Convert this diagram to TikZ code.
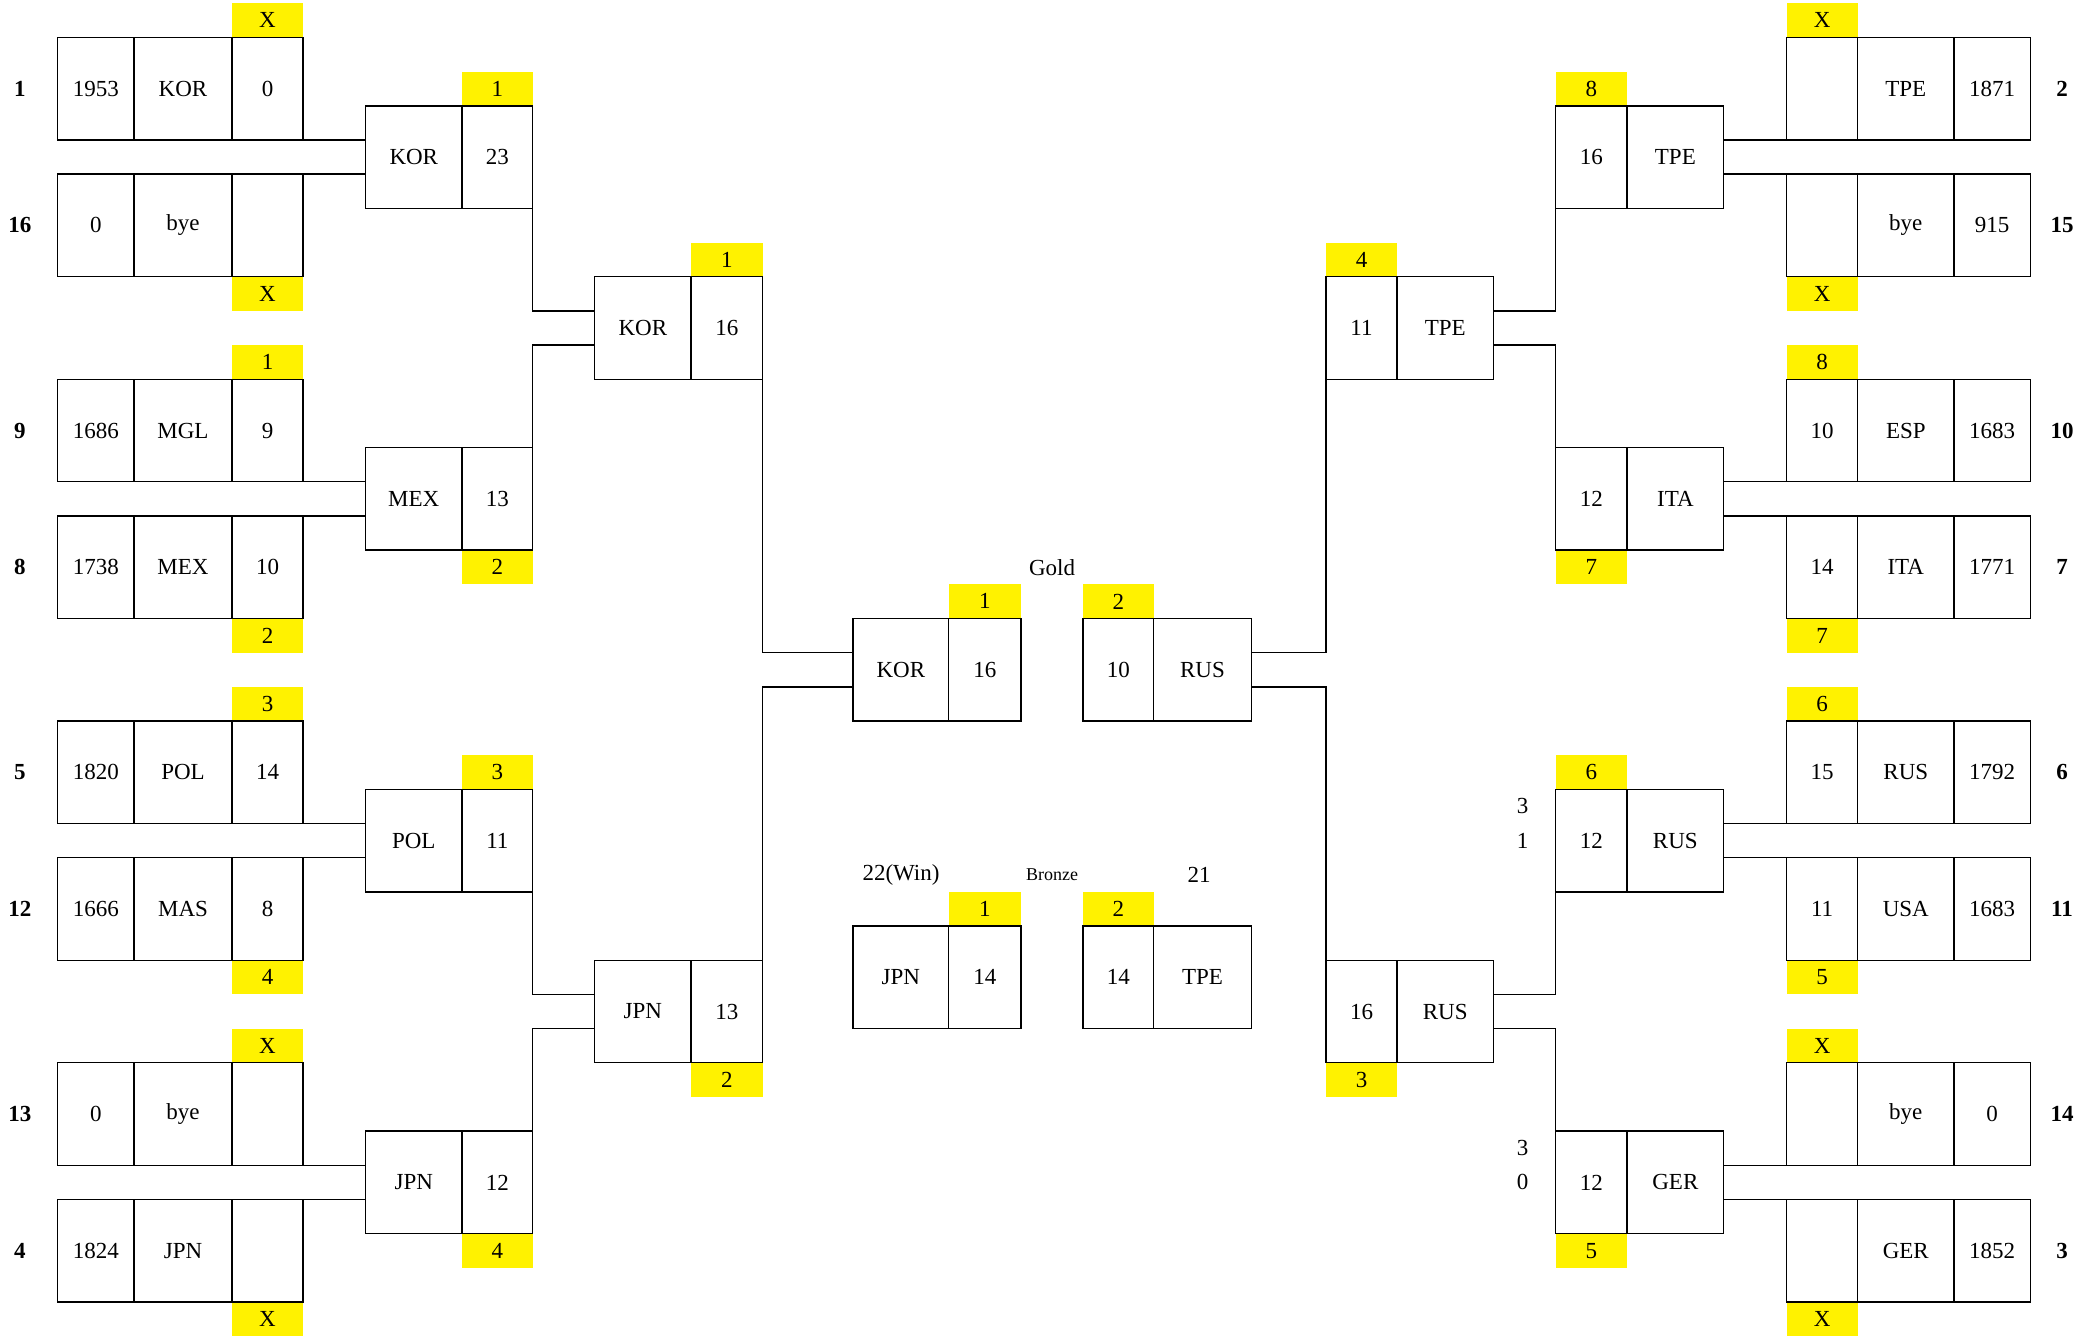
\documentclass[tikz,border=0pt]{standalone}
\usepackage{fontspec}
\setmainfont{Liberation Serif}
\newcommand\RH{34.176}
\newcommand\YZ{3.32}
\newcommand\mycell[5]{\node[cellsty, minimum width={(#3-#2)*0.5pt}] (#1) at ({(#2+#3)/2},{\YZ+(#4+1.5)*\RH}) {#5};}
\newcommand\ytag[5]{\node[tagsty, minimum width={(#3-#2)*0.5pt}] (#1) at ({(#2+#3)/2},{\YZ+(#4+0.5)*\RH}) {#5};}
\newcommand\ptext[5][]{\node[txtsty,#1] (#2) at (#3,{\YZ+(#4+0.5)*\RH}) {#5};}
\tikzset{
 cellsty/.style={draw, line width=0.7pt, minimum height=51.264pt, inner sep=0pt, outer sep=0pt, font=\fontsize{11.5}{13}\selectfont},
 tagsty/.style={fill=yellow, minimum height=17.088pt, inner sep=0pt, outer sep=0pt, font=\fontsize{11.5}{13}\selectfont},
 txtsty/.style={inner sep=0pt, font=\fontsize{11.5}{13}\selectfont},
 seedsty/.style={inner sep=0pt, font=\fontsize{11.5}{13}\selectfont\bfseries},
 smallsty/.style={inner sep=0pt, font=\fontsize{9}{10}\selectfont},
 conn/.style={line width=0.7pt},
}
\begin{document}
\begin{tikzpicture}[x=0.5pt,y=-0.5pt]
\useasboundingbox (0,0) rectangle (2100,1336);
% ---------- yellow tags ----------
% left round 1 (col C 232-303)
\ytag{tLa}{232}{303}{0}{X}
\ytag{tLb}{232}{303}{8}{X}
\ytag{tLc}{232}{303}{10}{1}
\ytag{tLd}{232}{303}{18}{2}
\ytag{tLe}{232}{303}{20}{3}
\ytag{tLf}{232}{303}{28}{4}
\ytag{tLg}{232}{303}{30}{X}
\ytag{tLh}{232}{303}{38}{X}
% left round 2 (col E 462-532.7)
\ytag{tMa}{462}{532.7}{2}{1}
\ytag{tMb}{462}{532.7}{16}{2}
\ytag{tMc}{462}{532.7}{22}{3}
\ytag{tMd}{462}{532.7}{36}{4}
% left round 3 (col G 691-762.7)
\ytag{tQa}{691}{762.7}{7}{1}
\ytag{tQb}{691}{762.7}{31}{2}
% finals
\ytag{tGL}{948.7}{1021}{17}{1}
\ytag{tGR}{1083}{1153.7}{17}{2}
\ytag{tBL}{948.7}{1021}{26}{1}
\ytag{tBR}{1083}{1153.7}{26}{2}
% right round 3 (col L 1326-1397)
\ytag{tSa}{1326}{1397}{7}{4}
\ytag{tSb}{1326}{1397}{31}{3}
% right round 2 (col N 1555.5-1627)
\ytag{tNa}{1555.5}{1627}{2}{8}
\ytag{tNb}{1555.5}{1627}{16}{7}
\ytag{tNc}{1555.5}{1627}{22}{6}
\ytag{tNd}{1555.5}{1627}{36}{5}
% right round 1 (col P 1786.6-1857.6)
\ytag{tRa}{1786.6}{1857.6}{0}{X}
\ytag{tRb}{1786.6}{1857.6}{8}{X}
\ytag{tRc}{1786.6}{1857.6}{10}{8}
\ytag{tRd}{1786.6}{1857.6}{18}{7}
\ytag{tRe}{1786.6}{1857.6}{20}{6}
\ytag{tRf}{1786.6}{1857.6}{28}{5}
\ytag{tRg}{1786.6}{1857.6}{30}{X}
\ytag{tRh}{1786.6}{1857.6}{38}{X}
% ---------- left round 1 ----------
\mycell{LaA}{57.6}{134}{1}{1953}\mycell{LaB}{134}{232}{1}{KOR}\mycell{LaC}{232}{303}{1}{0}
\mycell{LbA}{57.6}{134}{5}{0}\mycell{LbB}{134}{232}{5}{bye}\mycell{LbC}{232}{303}{5}{}
\mycell{LcA}{57.6}{134}{11}{1686}\mycell{LcB}{134}{232}{11}{MGL}\mycell{LcC}{232}{303}{11}{9}
\mycell{LdA}{57.6}{134}{15}{1738}\mycell{LdB}{134}{232}{15}{MEX}\mycell{LdC}{232}{303}{15}{10}
\mycell{LeA}{57.6}{134}{21}{1820}\mycell{LeB}{134}{232}{21}{POL}\mycell{LeC}{232}{303}{21}{14}
\mycell{LfA}{57.6}{134}{25}{1666}\mycell{LfB}{134}{232}{25}{MAS}\mycell{LfC}{232}{303}{25}{8}
\mycell{LgA}{57.6}{134}{31}{0}\mycell{LgB}{134}{232}{31}{bye}\mycell{LgC}{232}{303}{31}{}
\mycell{LhA}{57.6}{134}{35}{1824}\mycell{LhB}{134}{232}{35}{JPN}\mycell{LhC}{232}{303}{35}{}
\ptext[seedsty]{sLa}{20}{2}{1}
\ptext[seedsty]{sLb}{20}{6}{16}
\ptext[seedsty]{sLc}{20}{12}{9}
\ptext[seedsty]{sLd}{20}{16}{8}
\ptext[seedsty]{sLe}{20}{22}{5}
\ptext[seedsty]{sLf}{20}{26}{12}
\ptext[seedsty]{sLg}{20}{32}{13}
\ptext[seedsty]{sLh}{20}{36}{4}
% ---------- left round 2 ----------
\mycell{MaD}{365.6}{462}{3}{KOR}\mycell{MaE}{462}{532.7}{3}{23}
\mycell{MbD}{365.6}{462}{13}{MEX}\mycell{MbE}{462}{532.7}{13}{13}
\mycell{McD}{365.6}{462}{23}{POL}\mycell{McE}{462}{532.7}{23}{11}
\mycell{MdD}{365.6}{462}{33}{JPN}\mycell{MdE}{462}{532.7}{33}{12}
% ---------- left round 3 ----------
\mycell{QaF}{594.7}{691}{8}{KOR}\mycell{QaG}{691}{762.7}{8}{16}
\mycell{QbF}{594.7}{691}{28}{JPN}\mycell{QbG}{691}{762.7}{28}{13}
% ---------- finals ----------
\mycell{GLH}{853}{948.7}{18}{KOR}\mycell{GLI}{948.7}{1021}{18}{16}
\mycell{GRJ}{1083}{1153.7}{18}{10}\mycell{GRK}{1153.7}{1251.3}{18}{RUS}
\ptext{gold}{1052}{16}{Gold}
\mycell{BLH}{853}{948.7}{27}{JPN}\mycell{BLI}{948.7}{1021}{27}{14}
\mycell{BRJ}{1083}{1153.7}{27}{14}\mycell{BRK}{1153.7}{1251.3}{27}{TPE}
\ptext{bwin}{901}{25}{22(Win)}
\ptext[smallsty]{bronze}{1052}{25}{Bronze}
\ptext{blose}{1199}{25}{21}
% ---------- right round 3 ----------
\mycell{SaL}{1326}{1397}{8}{11}\mycell{SaM}{1397}{1493.5}{8}{TPE}
\mycell{SbL}{1326}{1397}{28}{16}\mycell{SbM}{1397}{1493.5}{28}{RUS}
% ---------- right round 2 ----------
\mycell{NaN}{1555.5}{1627}{3}{16}\mycell{NaO}{1627}{1723.7}{3}{TPE}
\mycell{NbN}{1555.5}{1627}{13}{12}\mycell{NbO}{1627}{1723.7}{13}{ITA}
\mycell{NcN}{1555.5}{1627}{23}{12}\mycell{NcO}{1627}{1723.7}{23}{RUS}
\mycell{NdN}{1555.5}{1627}{33}{12}\mycell{NdO}{1627}{1723.7}{33}{GER}
\ptext{xc1}{1522.5}{23}{3}
\ptext{xc2}{1522.5}{24}{1}
\ptext{xd1}{1522.5}{33}{3}
\ptext{xd2}{1522.5}{34}{0}
% ---------- right round 1 ----------
\mycell{RaP}{1786.6}{1857.6}{1}{}\mycell{RaQ}{1857.6}{1954}{1}{TPE}\mycell{RaR}{1954}{2030.4}{1}{1871}
\mycell{RbP}{1786.6}{1857.6}{5}{}\mycell{RbQ}{1857.6}{1954}{5}{bye}\mycell{RbR}{1954}{2030.4}{5}{915}
\mycell{RcP}{1786.6}{1857.6}{11}{10}\mycell{RcQ}{1857.6}{1954}{11}{ESP}\mycell{RcR}{1954}{2030.4}{11}{1683}
\mycell{RdP}{1786.6}{1857.6}{15}{14}\mycell{RdQ}{1857.6}{1954}{15}{ITA}\mycell{RdR}{1954}{2030.4}{15}{1771}
\mycell{ReP}{1786.6}{1857.6}{21}{15}\mycell{ReQ}{1857.6}{1954}{21}{RUS}\mycell{ReR}{1954}{2030.4}{21}{1792}
\mycell{RfP}{1786.6}{1857.6}{25}{11}\mycell{RfQ}{1857.6}{1954}{25}{USA}\mycell{RfR}{1954}{2030.4}{25}{1683}
\mycell{RgP}{1786.6}{1857.6}{31}{}\mycell{RgQ}{1857.6}{1954}{31}{bye}\mycell{RgR}{1954}{2030.4}{31}{0}
\mycell{RhP}{1786.6}{1857.6}{35}{}\mycell{RhQ}{1857.6}{1954}{35}{GER}\mycell{RhR}{1954}{2030.4}{35}{1852}
\ptext[seedsty]{sRa}{2062}{2}{2}
\ptext[seedsty]{sRb}{2062}{6}{15}
\ptext[seedsty]{sRc}{2062}{12}{10}
\ptext[seedsty]{sRd}{2062}{16}{7}
\ptext[seedsty]{sRe}{2062}{22}{6}
\ptext[seedsty]{sRf}{2062}{26}{11}
\ptext[seedsty]{sRg}{2062}{32}{14}
\ptext[seedsty]{sRh}{2062}{36}{3}
% ---------- connectors left ----------
\draw[conn] (LaC.south east) -- (LaC.south east -| MaD.west);
\draw[conn] (LbC.north east) -- (LbC.north east -| MaD.west);
\draw[conn] (LcC.south east) -- (LcC.south east -| MbD.west);
\draw[conn] (LdC.north east) -- (LdC.north east -| MbD.west);
\draw[conn] (LeC.south east) -- (LeC.south east -| McD.west);
\draw[conn] (LfC.north east) -- (LfC.north east -| McD.west);
\draw[conn] (LgC.south east) -- (LgC.south east -| MdD.west);
\draw[conn] (LhC.north east) -- (LhC.north east -| MdD.west);
\draw[conn] (MaE.south east) |- ([yshift=8.544pt]QaF.west);
\draw[conn] (MbE.north east) |- ([yshift=-8.544pt]QaF.west);
\draw[conn] (McE.south east) |- ([yshift=8.544pt]QbF.west);
\draw[conn] (MdE.north east) |- ([yshift=-8.544pt]QbF.west);
\draw[conn] (QaG.south east) |- ([yshift=8.544pt]GLH.west);
\draw[conn] (QbG.north east) |- ([yshift=-8.544pt]GLH.west);
% ---------- connectors right ----------
\draw[conn] (RaP.south west) -- (RaP.south west -| NaO.east);
\draw[conn] (RbP.north west) -- (RbP.north west -| NaO.east);
\draw[conn] (RcP.south west) -- (RcP.south west -| NbO.east);
\draw[conn] (RdP.north west) -- (RdP.north west -| NbO.east);
\draw[conn] (ReP.south west) -- (ReP.south west -| NcO.east);
\draw[conn] (RfP.north west) -- (RfP.north west -| NcO.east);
\draw[conn] (RgP.south west) -- (RgP.south west -| NdO.east);
\draw[conn] (RhP.north west) -- (RhP.north west -| NdO.east);
\draw[conn] (NaN.south west) |- ([yshift=8.544pt]SaM.east);
\draw[conn] (NbN.north west) |- ([yshift=-8.544pt]SaM.east);
\draw[conn] (NcN.south west) |- ([yshift=8.544pt]SbM.east);
\draw[conn] (NdN.north west) |- ([yshift=-8.544pt]SbM.east);
\draw[conn] (SaL.south west) |- ([yshift=8.544pt]GRK.east);
\draw[conn] (SbL.north west) |- ([yshift=-8.544pt]GRK.east);
\end{tikzpicture}
\end{document}
